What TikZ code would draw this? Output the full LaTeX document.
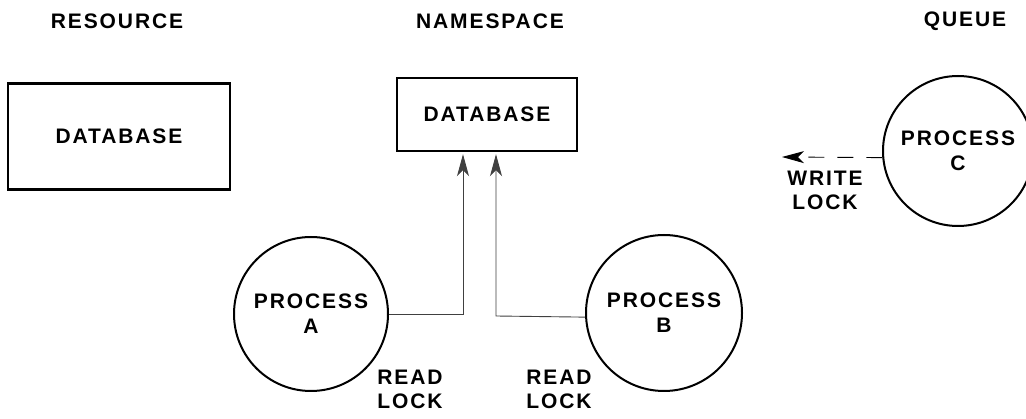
\documentclass[tikz,border=0pt]{standalone}
\usepackage{fontspec}
\setmainfont{Liberation Sans}[LetterSpace=9]
\usetikzlibrary{arrows.meta}
\begin{document}
\begin{tikzpicture}[x=1pt,y=-1pt,
  lbl/.style={font=\bfseries\fontsize{21}{24}\selectfont, align=center, inner sep=0pt},
  dbbox/.style={draw, line width=2.4pt, inner sep=0pt, font=\bfseries\fontsize{21}{24}\selectfont},
  proc/.style={draw, circle, line width=2pt, inner sep=0pt, align=center, font=\bfseries\fontsize{21}{25}\selectfont},
  conn/.style={line width=0.9pt, draw=black!75},
  tip/.style={-{Stealth[length=22pt,width=12pt,inset=6pt]}}
]
\clip (0,0) rectangle (1026,419);
\fill[white] (0,0) rectangle (1026,419);

\node[lbl] (hres) at (117,21) {RESOURCE};
\node[lbl] (hns) at (490,21) {NAMESPACE};
\node[lbl] (hq) at (965,21) {QUEUE};

\node[dbbox, minimum width=222pt, minimum height=106pt] (db1) at (119,136.5) {DATABASE};
\node[dbbox, minimum width=180pt, minimum height=73pt] (db2) at (487,114.5) {DATABASE};

\node[proc, minimum size=154pt] (A) at (311,314) {PROCESS\\A};
\node[proc, minimum size=156pt] (B) at (664,313) {PROCESS\\B};
\node[proc, minimum size=150pt] (C) at (958,151) {PROCESS\\C};

\coordinate (a1) at (463,314);
\coordinate (b1) at (496,316);
\coordinate (c1) at (782,157);

\draw[conn, tip, shorten >=2pt] (A.east) -- (a1) -- (a1 |- db2.south);
\draw[conn, tip, shorten >=2pt] (B.183) -- (b1) -- (b1 |- db2.south);
\draw[line width=0.9pt, tip, dash pattern=on 16pt off 13pt] (C.185) -- (c1);

\node[lbl] (wl) at (825,190) {WRITE\\LOCK};
\node[lbl] (rl1) at (410,389) {READ\\LOCK};
\node[lbl] (rl2) at (559,389) {READ\\LOCK};
\end{tikzpicture}
\end{document}
